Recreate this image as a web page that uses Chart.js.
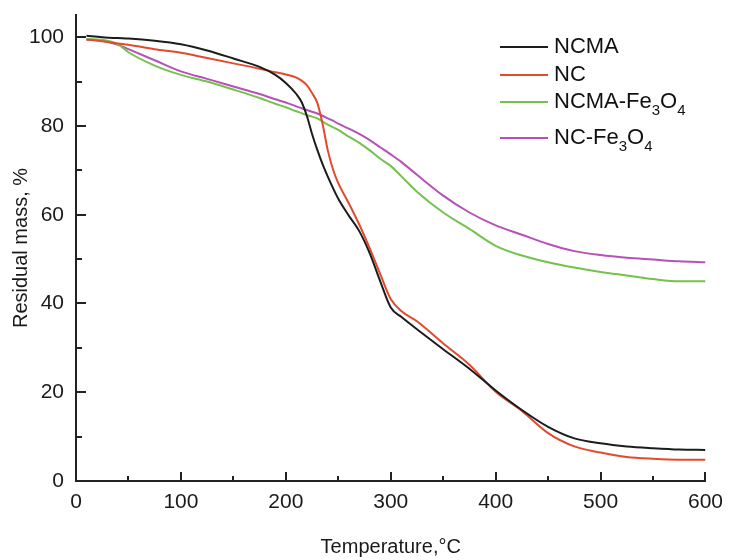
<!DOCTYPE html>
<html>
<head>
<meta charset="utf-8">
<script src="https://cdn.jsdelivr.net/npm/chart.js@4.4.1/dist/chart.umd.min.js"></script>
<style>
    html, body { margin: 0; padding: 0; background: #fff; }
    #wrap { width: 732px; height: 560px; }
</style>
</head>
<body>
<div id="wrap"><canvas id="tgaChart" width="732" height="560"></canvas></div>
<script>
// temperature grid, °C
const temperatures = [10, 25, 40, 50, 75, 100, 125, 150, 175, 190, 200, 210, 215, 220, 225, 230, 235, 240, 245, 250,
    260, 270, 280, 290, 300, 310, 325, 350, 375, 400, 425, 450, 475, 500, 525, 550, 575, 600];

// residual mass, %
const ncma = [100.3, 100.0, 99.8, 99.7, 99.2, 98.4, 97.0, 95.2, 93.3, 91.5, 89.7, 87.2, 85.4, 82.3, 78.2, 74.6, 71.4, 68.6, 66.0, 63.6,
    59.8, 56.3, 51.3, 45.0, 39.1, 37.0, 34.2, 29.7, 25.3, 20.4, 16.0, 12.2, 9.6, 8.5, 7.8, 7.4, 7.1, 7.0];
const nc = [99.5, 99.1, 98.6, 98.3, 97.3, 96.5, 95.3, 94.1, 92.9, 92.1, 91.6, 90.9, 90.2, 89.2, 87.4, 85.2, 80.5, 74.5, 70.2, 67.1,
    62.6, 57.8, 52.4, 46.6, 41.0, 38.3, 36.0, 31.0, 26.2, 20.1, 15.8, 10.8, 7.8, 6.4, 5.4, 5.0, 4.8, 4.8];
const ncmaFe = [99.6, 99.4, 98.4, 96.6, 93.6, 91.5, 90.0, 88.2, 86.3, 85.0, 84.2, 83.3, 82.9, 82.4, 82.1, 81.7, 81.0, 80.3, 79.7, 79.1,
    77.6, 76.2, 74.5, 72.6, 71.0, 68.7, 65.2, 60.5, 56.8, 53.0, 50.8, 49.3, 48.1, 47.1, 46.3, 45.5, 45.0, 45.0];
const ncFe = [99.5, 99.2, 98.3, 97.3, 94.8, 92.3, 90.6, 88.9, 87.2, 86.0, 85.3, 84.4, 84.0, 83.6, 83.2, 82.8, 82.3, 81.7, 81.2, 80.5,
    79.4, 78.2, 76.8, 75.2, 73.6, 71.9, 69.0, 64.3, 60.5, 57.6, 55.5, 53.4, 51.8, 50.9, 50.3, 49.9, 49.5, 49.3];

const seriesNames = ['NCMA', 'NC', 'NCMA-Fe3O4', 'NC-Fe3O4'];
const seriesColors = ['#1c1c1c', '#e24a2e', '#74c24c', '#b651b8'];
const xTicks = [0, 100, 200, 300, 400, 500, 600];
const yTicks = [0, 20, 40, 60, 80, 100];

const FONT = '"Liberation Sans", Arial, sans-serif';

function toPoints(values) {
    return temperatures.map((t, i) => ({ x: t, y: values[i] }));
}

// inward major/minor tick marks on both axes
const innerTicks = {
    id: 'innerTicks',
    afterDraw(chart) {
        const ctx = chart.ctx;
        const xs = chart.scales.x;
        const ys = chart.scales.y;
        const area = chart.chartArea;
        ctx.save();
        ctx.strokeStyle = '#222';
        ctx.lineWidth = 2;
        ctx.beginPath();
        for (let v = 0; v <= 600; v += 50) {
            const px = Math.round(xs.getPixelForValue(v));
            const len = v % 100 === 0 ? 9 : 5;
            ctx.moveTo(px, area.bottom);
            ctx.lineTo(px, area.bottom - len);
        }
        for (let v = 0; v <= 100; v += 10) {
            const py = Math.round(ys.getPixelForValue(v));
            const len = v % 20 === 0 ? 10 : 6;
            ctx.moveTo(area.left, py);
            ctx.lineTo(area.left + len, py);
        }
        ctx.stroke();
        ctx.restore();
    }
};

// legend with subscripted digits (Fe3O4)
const formulaLegend = {
    id: 'formulaLegend',
    afterDraw(chart) {
        const ctx = chart.ctx;
        const rows = [47, 75, 102, 138];
        ctx.save();
        chart.data.datasets.forEach((ds, i) => {
            const y = rows[i];
            ctx.strokeStyle = ds.borderColor;
            ctx.lineWidth = 2;
            ctx.beginPath();
            ctx.moveTo(500, y);
            ctx.lineTo(548, y);
            ctx.stroke();

            let x = 554;
            ctx.fillStyle = '#111';
            ctx.textBaseline = 'middle';
            ctx.textAlign = 'left';
            ds.label.split(/(\d+)/).forEach(part => {
                if (!part) return;
                const sub = /^\d+$/.test(part);
                ctx.font = (sub ? '15px ' : '22px ') + FONT;
                ctx.fillText(part, x, sub ? y + 9 : y);
                x += ctx.measureText(part).width;
            });
        });
        ctx.restore();
    }
};

const datasets = [ncma, nc, ncmaFe, ncFe].map((values, i) => ({
    label: seriesNames[i],
    data: toPoints(values),
    borderColor: seriesColors[i],
    borderWidth: 2,
    pointRadius: 0,
    fill: false,
    cubicInterpolationMode: 'monotone'
}));

new Chart(document.getElementById('tgaChart').getContext('2d'), {
    type: 'line',
    data: { datasets: datasets },
    options: {
        responsive: false,
        animation: false,
        events: [],
        layout: { padding: { top: 15, right: 21, left: 0, bottom: 0 } },
        plugins: {
            legend: { display: false },
            tooltip: { enabled: false }
        },
        scales: {
            x: {
                type: 'linear',
                min: 0,
                max: 600,
                afterFit(scale) { scale.height = 79; },
                afterBuildTicks(scale) { scale.ticks = xTicks.map(v => ({ value: v })); },
                grid: { display: false, drawTicks: false },
                border: { display: true, color: '#222', width: 2 },
                ticks: {
                    padding: 9,
                    maxRotation: 0,
                    autoSkip: false,
                    color: '#1a1a1a',
                    font: { family: FONT, size: 21 }
                },
                title: {
                    display: true,
                    text: 'Temperature,°C',
                    color: '#1a1a1a',
                    font: { family: FONT, size: 20 },
                    padding: { top: 0, bottom: 1 }
                }
            },
            y: {
                type: 'linear',
                min: 0,
                max: 105,
                afterFit(scale) {
                    scale.width = 76;
                    scale.paddingTop = 0;
                    scale.paddingBottom = 0;
                },
                afterBuildTicks(scale) { scale.ticks = yTicks.map(v => ({ value: v })); },
                grid: { display: false, drawTicks: false },
                border: { display: true, color: '#222', width: 2 },
                ticks: {
                    padding: 12,
                    color: '#1a1a1a',
                    font: { family: FONT, size: 21 }
                },
                title: {
                    display: true,
                    text: 'Residual mass, %',
                    color: '#1a1a1a',
                    font: { family: FONT, size: 20 },
                    padding: { top: 9, bottom: 0 }
                }
            }
        }
    },
    plugins: [innerTicks, formulaLegend]
});
</script>
</body>
</html>
